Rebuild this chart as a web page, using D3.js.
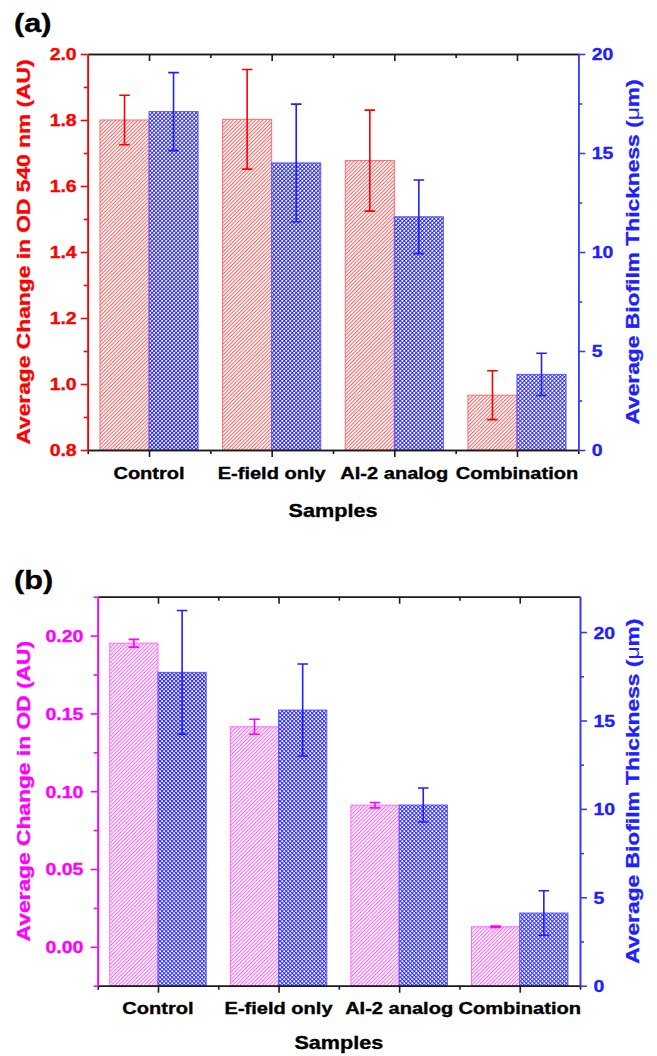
<!DOCTYPE html>
<html>
<head>
<meta charset="utf-8">
<script src="https://cdn.jsdelivr.net/npm/d3@7"></script>
<style>
body { margin: 0; background: #fff; }
text { font-family: "Liberation Sans", Arial, sans-serif; font-weight: bold; stroke-width: 0.35px; }
</style>
</head>
<body>
<svg id="chart" width="657" height="1056"></svg>
<script>
// categories shared by both panels
var categories = ["Control", "E-field only", "AI-2 analog", "Combination"];

// panel (a)
var odA = [1.800, 1.802, 1.677, 0.966];
var odAErr = [0.075, 0.151, 0.153, 0.074];
var thickA = [17.09, 14.50, 11.78, 3.82];
var thickAErr = [1.97, 2.97, 1.86, 1.07];
var odATicks = [0.8, 1.0, 1.2, 1.4, 1.6, 1.8, 2.0];
var odAMinor = [0.9, 1.1, 1.3, 1.5, 1.7, 1.9];
var thickATicks = [0, 5, 10, 15, 20];

// panel (b)
var odB = [0.1951, 0.1414, 0.0910, 0.0129];
var odBErr = [0.0025, 0.0048, 0.0017, 0.0004];
var thickB = [17.72, 15.59, 10.22, 4.11];
var thickBErr = [3.50, 2.60, 0.96, 1.26];
var odBTicks = [0.00, 0.05, 0.10, 0.15, 0.20];
var odBMinor = [-0.025, 0.025, 0.075, 0.125, 0.175, 0.225];
var thickBTicks = [0, 5, 10, 15, 20];

var thickMinor = [2.5, 7.5, 12.5, 17.5];
var xMajor = [1, 2, 3, 4];
var xMinor = [0.5, 1.5, 2.5, 3.5, 4.5];

var BLUE = "#1f1fff";
var BAR_W = 0.4;

var svg = d3.select("#chart");
var defs = svg.append("defs");

// hatch pattern "/" for the OD bars
function hatch(id, color) {
    var s = 2.6;
    var p = defs.append("pattern")
        .attr("id", id)
        .attr("patternUnits", "userSpaceOnUse")
        .attr("width", s).attr("height", s)
        .attr("patternTransform", "rotate(45)");
    p.append("rect").attr("width", s).attr("height", s).attr("fill", "#fff");
    p.append("line")
        .attr("x1", 0.5).attr("y1", 0).attr("x2", 0.5).attr("y2", s)
        .attr("stroke", color).attr("stroke-width", 0.95);
}
hatch("hatchRed", "#ff5555");
hatch("hatchMag", "#ff55ff");

// cross hatch for the thickness bars
var cross = defs.append("pattern")
    .attr("id", "crossBlue")
    .attr("patternUnits", "userSpaceOnUse")
    .attr("width", 2.83).attr("height", 2.83)
    .attr("patternTransform", "rotate(45)");
cross.append("rect").attr("width", 2.83).attr("height", 2.83).attr("fill", "#fff");
cross.append("path")
    .attr("d", "M0.5,0V2.83M0,0.5H2.83")
    .attr("stroke", "#2e2eff").attr("stroke-width", 1.05);

// stretched text helper (the original font is wide)
function label(g, x, y, str, opts) {
    var col = opts.color || "#000";
    var t = g.append("text")
        .attr("transform", "translate(" + x + "," + y + ")" + (opts.rotate ? " rotate(-90)" : "") +
            " scale(" + (opts.sx || 1.18) + ",1)")
        .attr("text-anchor", opts.anchor || "middle")
        .attr("font-size", opts.size)
        .attr("fill", col)
        .attr("stroke", col)
        .text(str);
    return t;
}

function drawPanel(cfg) {
    var g = svg.append("g");

    var x = d3.scaleLinear().domain([0.5, 4.5]).range([cfg.left, cfg.right]);
    var yL = d3.scaleLinear().domain(cfg.leftDomain).range([cfg.bottom, cfg.top]);
    var yR = d3.scaleLinear().domain(cfg.rightDomain).range([cfg.bottom, cfg.top]);

    // bars
    var bars = g.append("g");
    bars.selectAll(".od").data(cfg.od).join("rect")
        .attr("x", function(d, i) { return x(i + 1 - BAR_W); })
        .attr("width", function(d, i) { return x(i + 1) - x(i + 1 - BAR_W); })
        .attr("y", function(d) { return yL(d); })
        .attr("height", function(d) { return cfg.bottom - yL(d); })
        .attr("fill", "url(#" + cfg.pattern + ")")
        .attr("stroke", cfg.barStroke).attr("stroke-width", 1);
    bars.selectAll(".th").data(cfg.thick).join("rect")
        .attr("x", function(d, i) { return x(i + 1); })
        .attr("width", function(d, i) { return x(i + 1 + BAR_W) - x(i + 1); })
        .attr("y", function(d) { return yR(d); })
        .attr("height", function(d) { return cfg.bottom - yR(d); })
        .attr("fill", "url(#crossBlue)")
        .attr("stroke", "#5a5aff").attr("stroke-width", 1);

    // error bars
    function errBars(vals, errs, scale, offset, color) {
        var eg = g.append("g").attr("stroke", color).attr("stroke-width", 1.6).attr("fill", "none");
        eg.selectAll("path").data(vals).join("path")
            .attr("d", function(d, i) {
                var cx = x(i + 1 + offset), t = scale(d + errs[i]), b = scale(d - errs[i]);
                return "M" + cx + "," + t + "V" + b +
                    "M" + (cx - 5.3) + "," + t + "H" + (cx + 5.3) +
                    "M" + (cx - 5.3) + "," + b + "H" + (cx + 5.3);
            });
    }
    errBars(cfg.od, cfg.odErr, yL, -BAR_W / 2, cfg.color);
    errBars(cfg.thick, cfg.thickErr, yR, BAR_W / 2, BLUE);

    // axes
    function styleAxis(sel, color) {
        sel.select(".domain").attr("stroke", color).attr("stroke-width", 1.6);
        sel.selectAll(".tick line").attr("stroke", color).attr("stroke-width", 1.6);
    }

    var bottomMinor = g.append("g").attr("transform", "translate(0," + cfg.bottom + ")")
        .call(d3.axisBottom(x).tickValues(xMinor).tickSize(4).tickSizeOuter(0).tickFormat(""));
    styleAxis(bottomMinor, "#1a1a1a");
    var bottomMajor = g.append("g").attr("transform", "translate(0," + cfg.bottom + ")")
        .call(d3.axisBottom(x).tickValues(xMajor).tickSize(7).tickSizeOuter(0).tickFormat(""));
    styleAxis(bottomMajor, "#1a1a1a");
    var topMinor = g.append("g").attr("transform", "translate(0," + cfg.top + ")")
        .call(d3.axisTop(x).tickValues(xMinor.slice(1, -1)).tickSize(-4).tickSizeOuter(0).tickFormat(""));
    styleAxis(topMinor, "#1a1a1a");
    var topMajor = g.append("g").attr("transform", "translate(0," + cfg.top + ")")
        .call(d3.axisTop(x).tickValues(xMajor).tickSize(-7).tickSizeOuter(0).tickFormat(""));
    styleAxis(topMajor, "#1a1a1a");

    var leftMinor = g.append("g").attr("transform", "translate(" + cfg.left + ",0)")
        .call(d3.axisLeft(yL).tickValues(cfg.odMinor).tickSize(4).tickSizeOuter(0).tickFormat(""));
    styleAxis(leftMinor, cfg.color);
    var leftAxis = g.append("g").attr("transform", "translate(" + cfg.left + ",0)")
        .call(d3.axisLeft(yL).tickValues(cfg.odTicks).tickSize(7).tickSizeOuter(0).tickFormat(d3.format(cfg.fmt)));
    styleAxis(leftAxis, cfg.color);
    leftAxis.selectAll(".tick text")
        .attr("x", 0).attr("dy", "0.36em")
        .attr("transform", "translate(" + (-cfg.leftPad) + ",0) scale(1.18,1)")
        .attr("font-size", 16.5).attr("font-family", null)
        .attr("fill", cfg.color).attr("stroke", cfg.color);

    var rightMinor = g.append("g").attr("transform", "translate(" + cfg.right + ",0)")
        .call(d3.axisRight(yR).tickValues(thickMinor).tickSize(4).tickSizeOuter(0).tickFormat(""));
    styleAxis(rightMinor, "#3a3aff");
    var rightAxis = g.append("g").attr("transform", "translate(" + cfg.right + ",0)")
        .call(d3.axisRight(yR).tickValues(cfg.thickTicks).tickSize(7).tickSizeOuter(0).tickFormat(d3.format("d")));
    styleAxis(rightAxis, "#3a3aff");
    rightAxis.selectAll(".tick text")
        .attr("x", 0).attr("dy", "0.36em")
        .attr("transform", "translate(13.4,0) scale(1.18,1)")
        .attr("font-size", 16.5).attr("font-family", null)
        .attr("fill", BLUE).attr("stroke", BLUE);

    // category labels
    categories.forEach(function(c, i) {
        label(g, x(i + 1), cfg.catY, c, { size: 17 });
    });
    label(g, (cfg.left + cfg.right) / 2, cfg.samplesY, "Samples", { size: 18, sx: 1.2 });

    // axis titles
    var midY = (cfg.top + cfg.bottom) / 2;
    label(g, 30, midY, cfg.leftTitle, { size: 19, sx: 1.2, rotate: true, color: cfg.color });
    var rt = label(g, 639, midY, "Average Biofilm Thickness (", { size: 19, sx: 1.2, rotate: true, color: BLUE });
    rt.append("tspan").attr("font-weight", "normal").attr("stroke", "none").text("\u03bc");
    rt.append("tspan").text("m)");

    label(g, 14, cfg.tagY, cfg.tag, { size: 26, sx: 1.18, anchor: "start" });
}

drawPanel({
    tag: "(a)", tagY: 32,
    left: 87.7, right: 578.3, top: 54, bottom: 450,
    leftDomain: [0.8, 2.0], rightDomain: [0, 20],
    od: odA, odErr: odAErr, thick: thickA, thickErr: thickAErr,
    odTicks: odATicks, odMinor: odAMinor, thickTicks: thickATicks,
    fmt: ".1f", leftPad: 11,
    color: "#ff0000", pattern: "hatchRed", barStroke: "#ff6a6a",
    leftTitle: "Average Change in OD 540 nm (AU)",
    catY: 479, samplesY: 517
});

drawPanel({
    tag: "(b)", tagY: 589,
    left: 97.7, right: 580, top: 596.7, bottom: 985.7,
    leftDomain: [-0.025, 0.225], rightDomain: [0, 22],
    od: odB, odErr: odBErr, thick: thickB, thickErr: thickBErr,
    odTicks: odBTicks, odMinor: odBMinor, thickTicks: thickBTicks,
    fmt: ".2f", leftPad: 14.4,
    color: "#ff00ff", pattern: "hatchMag", barStroke: "#ff6aff",
    leftTitle: "Average Change in OD (AU)",
    catY: 1014, samplesY: 1049
});
</script>
</body>
</html>
